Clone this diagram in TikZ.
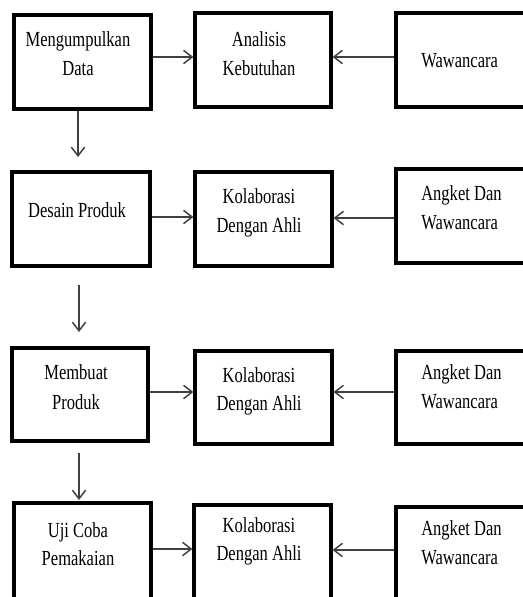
\documentclass[tikz,border=0pt]{standalone}
\usepackage{fontspec}
\usepackage{graphicx}
\setmainfont{Liberation Serif}
\usetikzlibrary{arrows.meta,fit}
\newcommand\vs[1]{\scalebox{1}[1.3]{#1}}
\begin{document}
\begin{tikzpicture}[x=0.75pt,y=-0.75pt,
  box/.style={draw=black,line width=2.4pt,inner sep=0pt,fill=none},
  txt/.style={inner sep=0pt,anchor=base,font=\fontsize{12.4}{14}\selectfont},
  txtl/.style={txt,anchor=base west},
  arr/.style={draw=black!75,line width=1.1pt,-{Straight Barb[length=6.5pt,width=10pt,line width=1.1pt]}}]
\useasboundingbox (0,0) rectangle (523,597);
\clip (0,0) rectangle (523,597);
\fill[white] (0,0) rectangle (523,597);
% row 1
\node[box,fit={(14,15) (151,109)}] (A) {};
\node[box,fit={(195,13) (331,107)}] (B) {};
\node[box,fit={(396,13) (560,107)}] (C) {};
\node[txt] (A1) at (78,46) {\vs{Mengumpulkan}};
\node[txt] (A2) at (78,75) {\vs{Data}};
\node[txt] (B1) at (259,46) {\vs{Analisis}};
\node[txt] (B2) at (259,75) {\vs{Kebutuhan}};
\node[txtl] (C1) at (421,67) {\vs{Wawancara}};
% row 2
\node[box,fit={(12,172) (150,266)}] (D) {};
\node[box,fit={(195,172) (332,266)}] (E) {};
\node[box,fit={(396,169) (560,263)}] (F) {};
\node[txt] (D1) at (77,217) {\vs{Desain Produk}};
\node[txt] (E1) at (259,203) {\vs{Kolaborasi}};
\node[txt] (E2) at (259,232) {\vs{Dengan Ahli}};
\node[txtl] (F1) at (421,200) {\vs{Angket Dan}};
\node[txtl] (F2) at (421,229) {\vs{Wawancara}};
% row 3
\node[box,fit={(12,348) (148,441)}] (G) {};
\node[box,fit={(195,351) (332,444)}] (H) {};
\node[box,fit={(396,351) (560,444)}] (I) {};
\node[txt] (G1) at (76,379) {\vs{Membuat}};
\node[txt] (G2) at (76,409) {\vs{Produk}};
\node[txt] (H1) at (259,382) {\vs{Kolaborasi}};
\node[txt] (H2) at (259,410) {\vs{Dengan Ahli}};
\node[txtl] (I1) at (421,379) {\vs{Angket Dan}};
\node[txtl] (I2) at (421,408) {\vs{Wawancara}};
% row 4
\node[box,fit={(14,503) (151,640)}] (J) {};
\node[box,fit={(194,505) (331,640)}] (K) {};
\node[box,fit={(396,507) (560,640)}] (L) {};
\node[txt] (J1) at (78,537) {\vs{Uji Coba}};
\node[txt] (J2) at (78,565) {\vs{Pemakaian}};
\node[txt] (K1) at (259,532) {\vs{Kolaborasi}};
\node[txt] (K2) at (259,560) {\vs{Dengan Ahli}};
\node[txtl] (L1) at (421,535) {\vs{Angket Dan}};
\node[txtl] (L2) at (421,564) {\vs{Wawancara}};
% horizontal arrows
\draw[arr] (A.east |- 0,57) -- (B.west |- 0,57);
\draw[arr] (C.west |- 0,57) -- (B.east |- 0,57);
\draw[arr] (D.east |- 0,217) -- (E.west |- 0,217);
\draw[arr] (F.west |- 0,218) -- (E.east |- 0,218);
\draw[arr] (G.east |- 0,392) -- (H.west |- 0,392);
\draw[arr] (I.west |- 0,392) -- (H.east |- 0,392);
\draw[arr] (J.east |- 0,549) -- (K.west |- 0,549);
\draw[arr] (L.west |- 0,550) -- (K.east |- 0,550);
% vertical arrows
\coordinate (d1) at (78,157);
\draw[arr] (A.south -| d1) -- (d1);
\coordinate (s2) at (79,285);
\coordinate (d2) at (79,332);
\draw[arr] (s2) -- (d2);
\coordinate (s3) at (79,453);
\coordinate (d3) at (79,500);
\draw[arr] (s3) -- (d3);
\end{tikzpicture}
\end{document}
